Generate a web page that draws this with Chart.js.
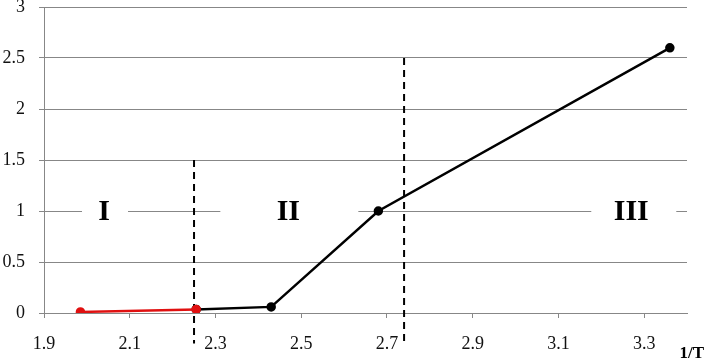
<!DOCTYPE html>
<html>
<head>
<meta charset="utf-8">
<script src="https://cdn.jsdelivr.net/npm/chart.js@4.4.0/dist/chart.umd.min.js"></script>
<style>
  html, body { margin: 0; padding: 0; background: #fff; }
  #wrap { width: 704px; height: 362px; }
</style>
</head>
<body>
<div id="wrap"><canvas id="grafico"></canvas></div>
<script>
// values
const redX = [1.985, 2.255];
const redY = [0.01, 0.035];
const blackX = [2.255, 2.43, 2.68, 3.36];
const blackY = [0.035, 0.06, 1.0, 2.6];
const boundaryX = [2.25, 2.74];
const boundaryTop = [1.5, 2.5];
const zoneLabels = ['I', 'II', 'III'];
const zoneX = [2.04, 2.47, 3.27];
const zoneY = 1;
const xTicks = [1.9, 2.1, 2.3, 2.5, 2.7, 2.9, 3.1, 3.3];
const yTicks = [0, 0.5, 1, 1.5, 2, 2.5, 3];

const serif = "'Liberation Serif', 'Times New Roman', serif";
const grade = '#878787';

function pontos(xs, ys) {
    return xs.map(function (x, i) { return { x: x, y: ys[i] }; });
}

const datasets = [
    {
        label: 'red',
        data: pontos(redX, redY),
        borderColor: '#e01010',
        backgroundColor: '#e01010',
        borderWidth: 2.5,
        pointRadius: 3.5,
        showLine: true,
        order: 1
    },
    {
        label: 'black',
        data: pontos(blackX, blackY),
        borderColor: '#000',
        backgroundColor: '#000',
        borderWidth: 2.5,
        pointRadius: 3.5,
        showLine: true,
        order: 2
    }
];
boundaryX.forEach(function (x, i) {
    datasets.push({
        label: 'limite' + i,
        data: [{ x: x, y: boundaryTop[i] }, { x: x, y: -0.3 }],
        borderColor: '#000',
        borderWidth: 2,
        borderDash: [7, 5],
        pointRadius: 0,
        showLine: true,
        clip: false,
        order: 3
    });
});

// white boxes with the zone numbers (I, II, III), drawn under the lines
const caixas = [[22, 24], [68, 70], [40, 45]];
const pluginZonas = {
    id: 'zonas',
    beforeDatasetsDraw: function (chart) {
        const ctx = chart.ctx;
        const sx = chart.scales.x, sy = chart.scales.y;
        ctx.save();
        ctx.font = 'bold 30px ' + serif;
        ctx.textAlign = 'center';
        ctx.textBaseline = 'middle';
        zoneLabels.forEach(function (t, i) {
            const px = sx.getPixelForValue(zoneX[i]);
            const py = sy.getPixelForValue(zoneY);
            ctx.fillStyle = '#fff';
            ctx.fillRect(px - caixas[i][0], py - 16, caixas[i][0] + caixas[i][1], 32);
            ctx.fillStyle = '#000';
            ctx.fillText(t, px, py + 1);
        });
        ctx.restore();
    },
    afterDraw: function (chart) {
        const ctx = chart.ctx;
        ctx.save();
        ctx.font = 'bold 17px ' + serif;
        ctx.fillStyle = '#000';
        ctx.textAlign = 'right';
        ctx.textBaseline = 'alphabetic';
        ctx.fillText('1/T', 704, 358);
        ctx.restore();
    }
};

new Chart(document.getElementById('grafico'), {
    type: 'scatter',
    data: { datasets: datasets },
    plugins: [pluginZonas],
    options: {
        responsive: true,
        maintainAspectRatio: false,
        animation: false,
        layout: { padding: { top: 7, right: 17, left: 0, bottom: 0 } },
        plugins: { legend: { display: false }, tooltip: { enabled: false } },
        scales: {
            x: {
                type: 'linear',
                min: 1.9,
                max: 3.4,
                afterBuildTicks: function (s) { s.ticks = xTicks.map(function (v) { return { value: v }; }); },
                afterFit: function (s) { s.height = 49; s.paddingLeft = 0; s.paddingRight = 0; },
                grid: { drawOnChartArea: false, drawTicks: true, tickLength: 5, color: grade },
                border: { color: grade },
                ticks: {
                    font: { family: serif, size: 18 },
                    color: '#111',
                    padding: 15,
                    maxRotation: 0,
                    autoSkip: false,
                    callback: function (v) { return v.toFixed(1); }
                }
            },
            y: {
                min: 0,
                max: 3,
                afterBuildTicks: function (s) { s.ticks = yTicks.map(function (v) { return { value: v }; }); },
                afterFit: function (s) { s.width = 44; s.paddingTop = 0; s.paddingBottom = 0; },
                grid: { color: grade, tickLength: 5, lineWidth: 1 },
                border: { color: grade },
                ticks: {
                    font: { family: serif, size: 18 },
                    color: '#111',
                    padding: 14,
                    callback: function (v) { return String(v); }
                }
            }
        }
    }
});
</script>
</body>
</html>
